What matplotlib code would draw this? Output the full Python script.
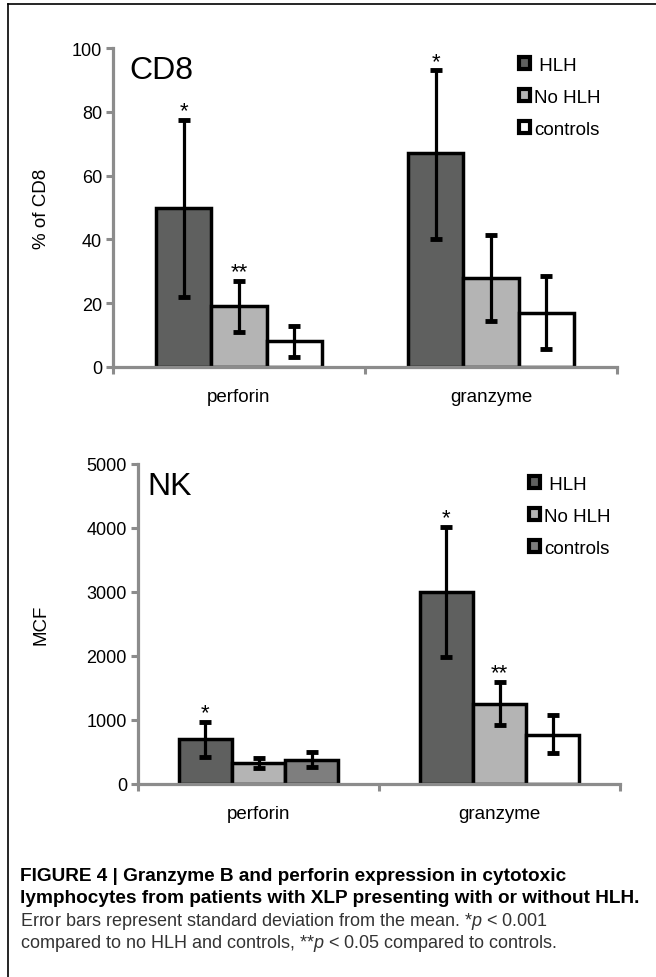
import numpy as np
import matplotlib.pyplot as plt
from matplotlib.lines import Line2D

plt.rcParams['font.family'] = ['Liberation Sans', 'DejaVu Sans']
plt.rcParams['mathtext.fontset'] = 'custom'
plt.rcParams['mathtext.it'] = 'Liberation Sans:italic'
plt.rcParams['mathtext.rm'] = 'Liberation Sans'

# data
categories = ['perforin', 'granzyme']
groups = [' HLH', 'No HLH', 'controls']

cd8_mean = [[50, 67], [19, 28], [8, 17]]
cd8_low = [[22, 40], [11, 14.5], [3, 5.5]]
cd8_high = [[77.5, 93], [27, 41.5], [13, 28.5]]
cd8_stars = [['*', '*'], ['**', ''], ['', '']]

nk_mean = [[700, 3000], [330, 1250], [370, 770]]
nk_low = [[420, 1980], [250, 920], [270, 480]]
nk_high = [[970, 4020], [400, 1590], [500, 1080]]
nk_stars = [['*', '*'], ['', '**'], ['', '']]

cd8_colors = [['#5f605f', '#5f605f'], ['#b4b4b4', '#b4b4b4'], ['#ffffff', '#ffffff']]
nk_colors = [['#5f605f', '#5f605f'], ['#b4b4b4', '#b4b4b4'], ['#7e7e7e', '#ffffff']]
cd8_legend_colors = ['#5f605f', '#b4b4b4', '#ffffff']
nk_legend_colors = ['#5f605f', '#b4b4b4', '#7e7e7e']

axis_grey = '#8c8c8c'
W, H = 656, 978


def panel(rect, mean, low, high, stars, colors, leg_colors, ymax, ystep,
          ylabel, label_x, tag, tag_x, leg_xy):
    ax = fig.add_axes(rect)
    x = np.arange(len(categories))
    w = 0.22
    for g in range(3):
        m = np.array(mean[g], dtype=float)
        err = [m - np.array(low[g]), np.array(high[g]) - m]
        ax.bar(x + (g - 1) * w, m, w, color=colors[g], edgecolor='black',
               linewidth=2.5, zorder=2)
        ax.errorbar(x + (g - 1) * w, m, yerr=err, fmt='none', ecolor='black',
                    elinewidth=2.3, capsize=4, capthick=3.5, zorder=3)
        for i in range(len(categories)):
            if stars[g][i]:
                ax.annotate(stars[g][i], (x[i] + (g - 1) * w, high[g][i]),
                            xytext=(0, -1), textcoords='offset points',
                            ha='center', va='bottom', fontsize=16)
    # legend squares
    handles = [plt.Rectangle((0, 0), 1, 1, facecolor=c, edgecolor='black',
                             linewidth=3) for c in leg_colors]
    fig.legend(handles, groups, loc='upper left',
               bbox_to_anchor=(leg_xy[0] / W, 1 - leg_xy[1] / H),
               frameon=False, fontsize=13.5, handlelength=0.6,
               handleheight=0.6, handletextpad=0.2, labelspacing=0.8,
               borderpad=0, borderaxespad=0)

    ax.set_xlim(-0.5, 1.5)
    ax.set_ylim(0, ymax)
    ax.set_yticks(np.arange(0, ymax + 1, ystep))
    ax.set_xticks(x)
    ax.set_xticklabels(categories)
    ax.set_xticks([-0.5, 0.5, 1.5], minor=True)
    ax.tick_params(axis='x', which='major', length=0, pad=15, labelsize=13.5)
    ax.tick_params(axis='x', which='minor', length=5, width=2.2,
                   color=axis_grey, direction='out')
    ax.tick_params(axis='y', length=5, width=2.2, color=axis_grey,
                   direction='out', pad=3, labelsize=13)
    for s in ['top', 'right']:
        ax.spines[s].set_visible(False)
    for s in ['left', 'bottom']:
        ax.spines[s].set_color(axis_grey)
        ax.spines[s].set_linewidth(2.3)
        ax.spines[s].set_zorder(4)
    ax.set_ylabel(ylabel, fontsize=13.5)
    ax.yaxis.set_label_coords(label_x, 0.5)
    ax.text(tag_x, 0.93, tag, transform=ax.transAxes, fontsize=23,
            va='center', ha='left')
    return ax


fig = plt.figure(figsize=(W / 100, H / 100), dpi=100)

panel([113 / W, 1 - 368 / H, 504 / W, 319 / H], cd8_mean, cd8_low, cd8_high,
      cd8_stars, cd8_colors, cd8_legend_colors, 100, 20, '% of CD8', -0.125,
      'CD8', 0.033, (519, 58))
panel([138 / W, 1 - 785 / H, 482 / W, 320 / H], nk_mean, nk_low, nk_high,
      nk_stars, nk_colors, nk_legend_colors, 5000, 1000, 'MCF', -0.183,
      'NK', 0.02, (529, 477))

# frame lines (top and left only)
fig.add_artist(Line2D([8 / W, 1], [1 - 5 / H, 1 - 5 / H], color='black',
                      linewidth=1.2, transform=fig.transFigure))
fig.add_artist(Line2D([8 / W, 8 / W], [0, 1 - 5 / H], color='black',
                      linewidth=1.2, transform=fig.transFigure))

# caption
cap_bold = ['FIGURE 4 | Granzyme B and perforin expression in cytotoxic',
            'lymphocytes from patients with XLP presenting with or without HLH.']
cap_plain = ['Error bars represent standard deviation from the mean. *$p$ < 0.001',
             'compared to no HLH and controls, **$p$ < 0.05 compared to controls.']
for i, t in enumerate(cap_bold):
    fig.text(20 / W, 1 - (877 + 22 * i) / H, t, fontsize=13.7, weight='bold',
             family='Liberation Sans', va='center', ha='left')
for i, t in enumerate(cap_plain):
    fig.text(20 / W, 1 - (922 + 22 * i) / H, t, fontsize=13, color='#333333',
             family='Liberation Sans', va='center', ha='left')

fig.savefig('out.png', dpi=100)
